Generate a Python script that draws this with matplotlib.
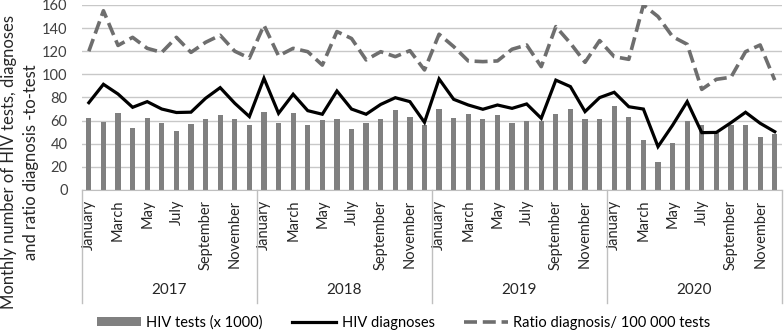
import matplotlib
matplotlib.use("Agg")
import matplotlib.pyplot as plt
from matplotlib.lines import Line2D
from matplotlib.patches import Patch
import numpy as np

plt.rcParams['font.family'] = ['Lato', 'DejaVu Sans']

years = ["2017", "2018", "2019", "2020"]
months = ["January", "February", "March", "April", "May", "June", "July",
          "August", "September", "October", "November", "December"]

hiv_tests = [62.3, 59, 66.6, 54, 62.3, 58, 51, 57.4, 61.7, 65, 61, 56,
             67.5, 58, 66.6, 56.5, 60.8, 61.7, 53, 58, 61.7, 69, 63, 56.5,
             70, 62.3, 65.7, 61.7, 64.9, 58, 59.7, 60, 65.7, 70, 61.7, 61,
             72.4, 63, 43, 24.5, 41, 59.7, 56, 49, 56, 56, 45.8, 48.7]

hiv_diagnoses = [75.5, 91.4, 83, 71.5, 76.4, 70, 67, 67.3, 79.3, 88.5, 75, 63.5,
                 96.6, 66.3, 82.8, 68.6, 65.5, 85.6, 70, 65.5, 74, 79.8, 76.4, 58.5,
                 96, 78.4, 73.5, 69.8, 73.5, 70.6, 74.4, 62, 95, 89.4, 67.8, 79.9,
                 84.5, 72, 70, 37.5, 56, 76.4, 49.6, 49.8, 58.2, 67.2, 57.7, 50.4]

ratio = [120, 155, 125, 132, 122.5, 119, 132, 119, 127.7, 133.8, 120, 114,
         142.5, 116, 122.5, 119.6, 108, 137, 131, 112.5, 119.6, 115.3, 120.5, 103.8,
         134.7, 124, 111.6, 111, 111.6, 121.7, 125.4, 106.7, 141.3, 126.9, 110.4, 129.2,
         115.3, 113, 160, 150, 132.6, 126, 87, 95.7, 97.5, 119.6, 125.4, 95]

legend_labels = ["HIV tests (x 1000)", "HIV diagnoses", "Ratio diagnosis/ 100 000 tests"]
ylabel = "Monthly number of HIV tests, diagnoses\nand ratio diagnosis -to-test"

fig = plt.figure(figsize=(7.84, 3.31), dpi=100)
ax = fig.add_axes([0.104, 0.426, 0.8935, 0.559])

n = len(hiv_tests)
x = np.arange(n)
bar_c = "#808080"
ax.bar(x, hiv_tests, width=0.36, color=bar_c, zorder=2)
ax.plot(x, hiv_diagnoses, color="black", lw=2.3, zorder=3, solid_joinstyle='miter')
ax.plot(x, ratio, color="#6e6e6e", lw=2.6, dashes=(3.6, 1.6), zorder=3)

ax.set_xlim(-0.5, n - 0.5)
ax.set_ylim(0, 160)
ax.set_yticks(np.arange(0, 161, 20))
ax.yaxis.grid(True, color="#c8c8c8", lw=1.0, zorder=0)
ax.set_axisbelow(True)
for s in ["top", "right", "left"]:
    ax.spines[s].set_visible(False)
ax.spines["bottom"].set_color("#bfbfbf")
ax.tick_params(axis="y", length=0, labelsize=10.5, colors="#404040", pad=10)

tick_pos = [i for i in range(n) if (i % 12) % 2 == 0]
tick_lab = [months[i % 12] for i in tick_pos]
ax.set_xticks(tick_pos)
ax.set_xticklabels(tick_lab, rotation=90, fontsize=10.5, color="#262626")
ax.tick_params(axis="x", length=0, pad=7)

trans = ax.get_xaxis_transform()
for k in range(len(years) + 1):
    xs = -0.5 + 12 * k
    ax.plot([xs, xs], [0, -0.61], transform=trans, color="#bfbfbf", lw=1, clip_on=False)
for k, yr in enumerate(years):
    ax.text(5.5 + 12 * k, -0.54, yr, transform=trans, ha="center", va="center",
            fontsize=11, color="#262626")

fig.text(0.026, 0.51, ylabel, rotation=90, ha="center", va="center",
         multialignment="center", fontsize=12, color="#262626", linespacing=1.45)

handles = [Patch(facecolor=bar_c, edgecolor="none"),
           Line2D([0], [0], color="black", lw=2.3),
           Line2D([0], [0], color="#6e6e6e", lw=2.6, dashes=(3.6, 1.6))]
fig.legend(handles, legend_labels, loc="center", bbox_to_anchor=(0.515, 0.025), ncol=3,
           frameon=False, fontsize=10.5, handlelength=3.0, handleheight=0.55,
           columnspacing=2.0, handletextpad=0.4)

fig.savefig("out.png", dpi=100)
